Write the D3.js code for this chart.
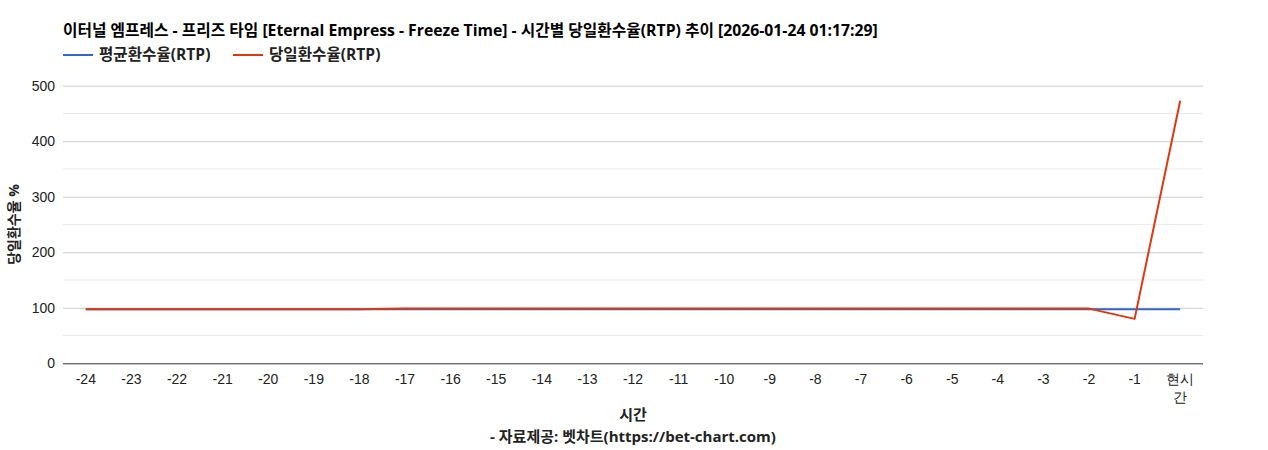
<!DOCTYPE html>
<html>
<head>
<meta charset="utf-8">
<script src="https://cdn.jsdelivr.net/npm/d3@7"></script>
<style>
  body { margin: 0; background: #fff; }
  text { font-family: "Liberation Sans", Arial, sans-serif; }
  .kr { font-family: "Open Sans", "Noto Sans CJK KR", sans-serif; font-weight: bold; }
</style>
</head>
<body>
<script>
// categories (hours before now)
const hours = ['-24','-23','-22','-21','-20','-19','-18','-17','-16','-15','-14','-13',
               '-12','-11','-10','-9','-8','-7','-6','-5','-4','-3','-2','-1','현시간'];

// average RTP %
const avgRtp = [97.3,97.3,97.3,97.3,97.3,97.3,97.3,97.3,97.3,97.3,97.3,97.3,
                97.3,97.3,97.3,97.3,97.3,97.3,97.3,97.3,97.3,97.3,97.3,97.3,97.3];

// daily RTP %
const dayRtp = [97.3,97.3,97.3,97.3,97.3,97.3,97.3,98.5,98.5,98.5,98.5,98.5,
                98.5,98.5,98.5,98.5,98.5,98.5,98.5,98.5,98.5,98.5,98.5,80,473];

const yTicks = [0,100,200,300,400,500];
const yMinor = [50,150,250,350,450];

const titleText = '이터널 엠프레스 - 프리즈 타임 [Eternal Empress - Freeze Time] - 시간별 당일환수율(RTP) 추이 [2026-01-24 01:17:29]';
const seriesNames = ['평균환수율(RTP)', '당일환수율(RTP)'];
const colors = ['#3366cc', '#dc3912'];

let width = 1268,
    height = 450;

let svg = d3.select('body')
    .append('svg')
    .attr('width', width)
    .attr('height', height);

let plotL = 63, plotR = 1203, plotT = 85.7, plotB = 363.3;

let x = d3.scaleBand()
    .domain(hours)
    .range([plotL, plotR]);

let y = d3.scaleLinear()
    .domain([0, 500])
    .range([plotB, plotT]);

// minor grid
svg.append('g')
    .selectAll('line')
    .data(yMinor)
    .join('line')
    .attr('x1', plotL).attr('x2', plotR)
    .attr('y1', d => y(d)).attr('y2', d => y(d))
    .attr('stroke', '#ebebeb');

// y axis with major grid
let yAxis = svg.append('g')
    .attr('transform', 'translate(' + plotL + ',0)')
    .call(d3.axisLeft(y).tickValues(yTicks).tickSize(-(plotR - plotL)).tickPadding(8));
yAxis.select('.domain').remove();
yAxis.selectAll('.tick line').attr('stroke', d => d === 0 ? '#333' : '#cccccc');
yAxis.selectAll('.tick text')
    .attr('fill', '#222')
    .style('font-size', '14px')
    .style('font-family', '"Liberation Sans", Arial, sans-serif');

// x axis labels
let xAxis = svg.append('g')
    .attr('transform', 'translate(0,' + plotB + ')')
    .call(d3.axisBottom(x).tickSize(0).tickPadding(11));
xAxis.select('.domain').remove();
xAxis.selectAll('.tick text')
    .attr('fill', '#222')
    .style('font-size', '14px')
    .style('font-family', '"Liberation Sans", Arial, sans-serif')
    .each(function(d) {
        if (d === '현시간') {
            let t = d3.select(this);
            t.text('');
            t.append('tspan').attr('x', 0).attr('dy', '0.71em').text('현시');
            t.append('tspan').attr('x', 0).attr('dy', '1.25em').text('간');
        }
    });

let line = d3.line()
    .x((d, i) => x(hours[i]) + x.bandwidth() / 2)
    .y(d => y(d));

[avgRtp, dayRtp].forEach(function(s, k) {
    svg.append('path')
        .datum(s)
        .attr('d', line)
        .attr('fill', 'none')
        .attr('stroke', colors[k])
        .attr('stroke-width', 2)
        .attr('stroke-linejoin', 'round');
});

// title
svg.append('text')
    .attr('class', 'kr')
    .attr('x', plotL)
    .attr('y', 36)
    .style('font-size', '15.75px')
    .attr('fill', '#000')
    .text(titleText);

// legend
let legendX = [63, 233];
seriesNames.forEach(function(n, k) {
    svg.append('line')
        .attr('x1', legendX[k]).attr('x2', legendX[k] + 30)
        .attr('y1', 55).attr('y2', 55)
        .attr('stroke', colors[k])
        .attr('stroke-width', 2);
    svg.append('text')
        .attr('class', 'kr')
        .attr('x', legendX[k] + 36)
        .attr('y', 60)
        .style('font-size', '15.6px')
        .attr('fill', '#222')
        .text(n);
});

// axis titles
svg.append('text')
    .attr('class', 'kr')
    .attr('transform', 'translate(19,' + ((plotT + plotB) / 2) + ') rotate(-90)')
    .attr('text-anchor', 'middle')
    .style('font-size', '14px')
    .attr('fill', '#222')
    .text('당일환수율 %');

svg.append('text')
    .attr('class', 'kr')
    .attr('x', (plotL + plotR) / 2)
    .attr('y', 420)
    .attr('text-anchor', 'middle')
    .style('font-size', '15px')
    .attr('fill', '#222')
    .text('시간');

svg.append('text')
    .attr('class', 'kr')
    .attr('x', (plotL + plotR) / 2)
    .attr('y', 442)
    .attr('text-anchor', 'middle')
    .style('font-size', '15px')
    .attr('fill', '#222')
    .text('- 자료제공: 벳차트(https://bet-chart.com)');
</script>
</body>
</html>
